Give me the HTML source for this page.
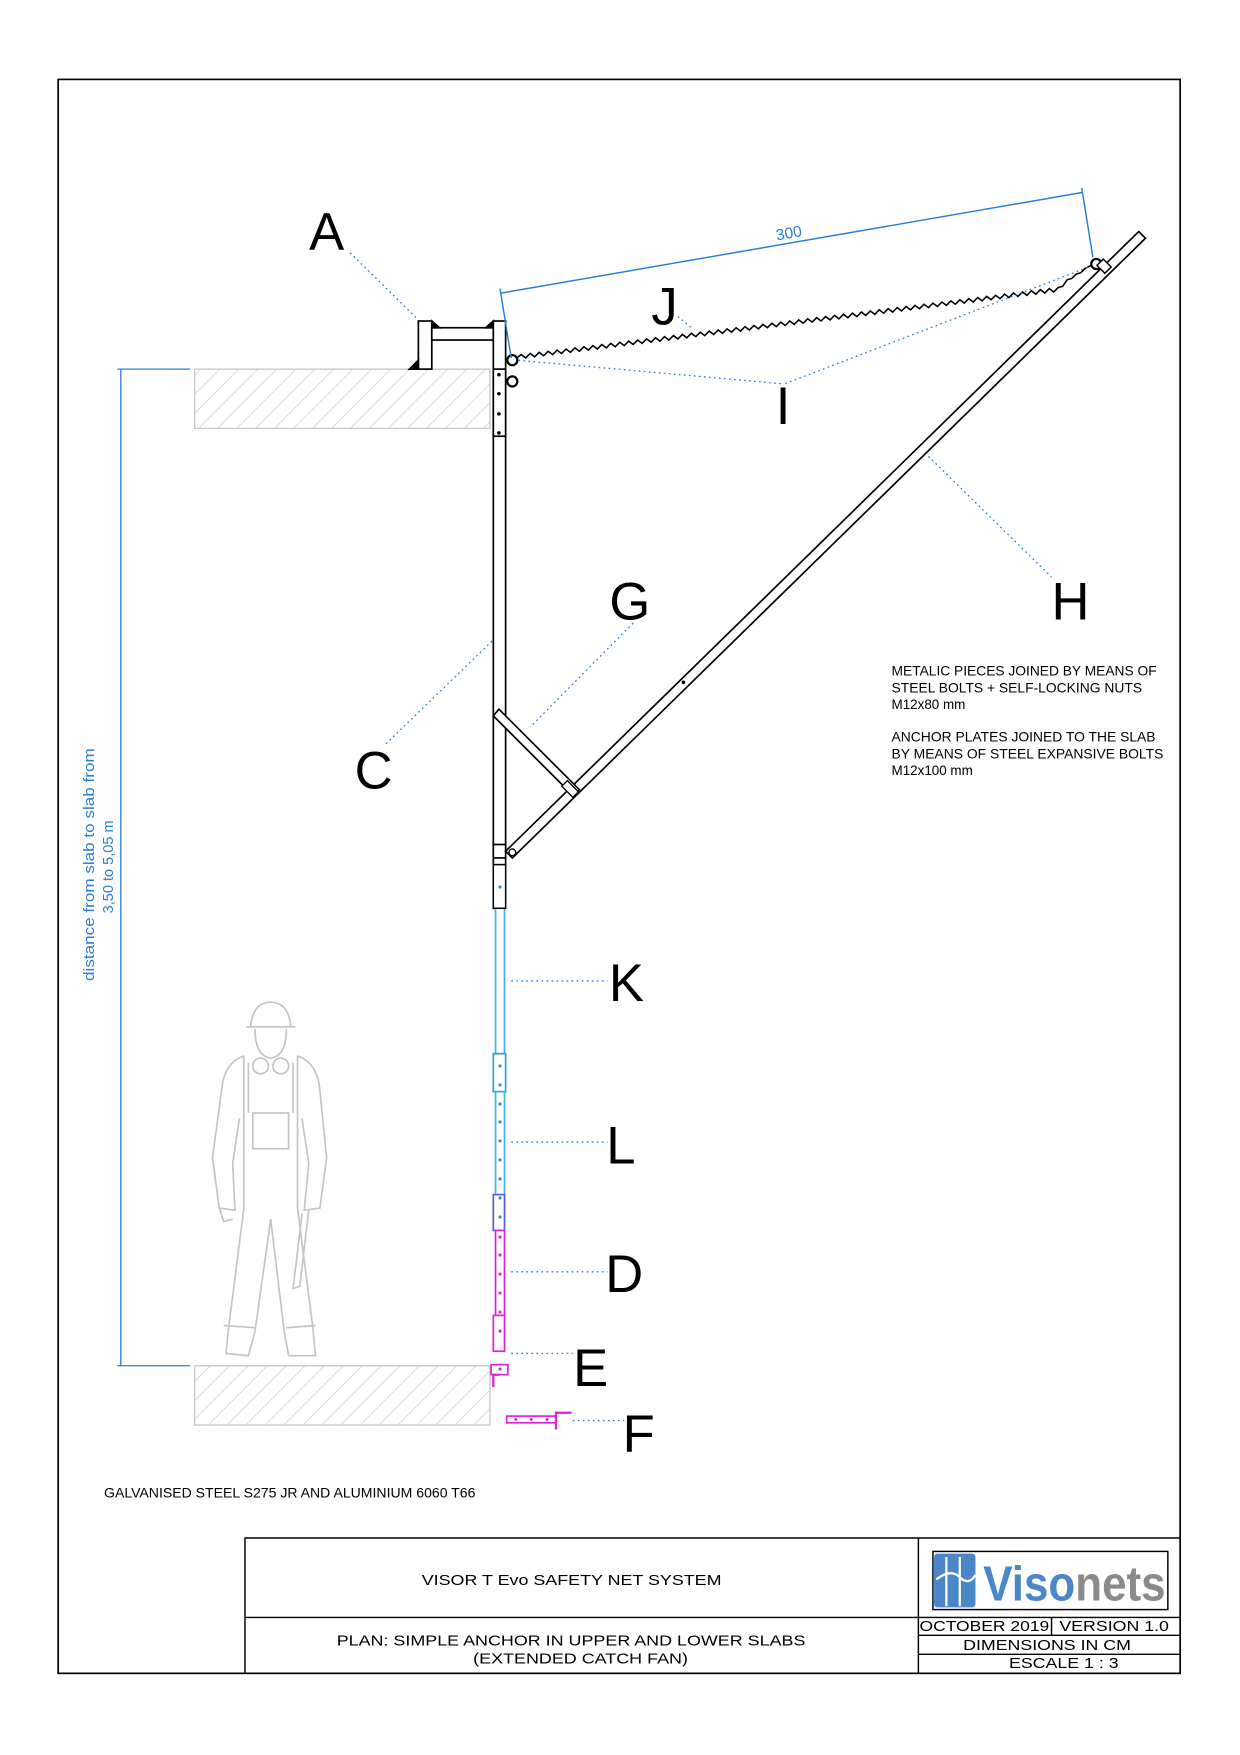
<!DOCTYPE html>
<html><head><meta charset="utf-8"><style>html,body{margin:0;padding:0;background:#fff}svg{display:block}</style></head>
<body>
<svg width="1240" height="1755" viewBox="0 0 1108.5 1569" preserveAspectRatio="none" xmlns="http://www.w3.org/2000/svg" font-family="Liberation Sans, Arial, sans-serif">
<defs>
<pattern id="h" patternUnits="userSpaceOnUse" width="12" height="12" patternTransform="rotate(45)">
<line x1="0" y1="0" x2="0" y2="12" stroke="#c8c8c8" stroke-width="1.2"/>
</pattern>
</defs>
<rect x="52" y="71" width="1003" height="1425" fill="none" stroke="#000" stroke-width="1.5"/>

<rect x="174" y="330" width="264" height="53" fill="url(#h)" stroke="#c8c8c8" stroke-width="1.2"/>
<rect x="174" y="1221" width="264" height="53" fill="url(#h)" stroke="#c8c8c8" stroke-width="1.2"/>

<g stroke="#2a7fd4" stroke-width="1.2">
<line x1="108" y1="330" x2="108" y2="1221"/>
<line x1="105" y1="330" x2="170" y2="330"/>
<line x1="105" y1="1221" x2="170" y2="1221"/>
</g>
<text transform="translate(84,773) rotate(-90)" text-anchor="middle" font-size="13" fill="#2a7fd4" textLength="208" lengthAdjust="spacingAndGlyphs">distance from slab to slab from</text>
<text transform="translate(101,775) rotate(-90)" text-anchor="middle" font-size="13" fill="#2a7fd4">3,50 to 5,05 m</text>

<g stroke="#000" stroke-width="1.5" fill="#fff">
<rect x="374" y="287" width="12" height="43"/>
<rect x="386" y="293" width="55" height="11"/>
<polygon points="366,330 374,322 374,330" fill="#000"/>
<polygon points="386,287 393,293 386,293" fill="#000"/>
<polygon points="441,287 434,293 441,293" fill="#000"/>
</g>

<g stroke="#000" stroke-width="1.5" fill="#fff">
<rect x="441" y="287" width="11" height="525"/>
<rect x="441" y="330" width="11" height="60"/>
<rect x="441" y="755" width="11" height="12"/>
</g>
<g fill="#000"><circle cx="446" cy="335" r="1.6"/><circle cx="446" cy="352" r="1.6"/><circle cx="446" cy="370" r="1.6"/><circle cx="446" cy="387" r="1.6"/></g>
<circle cx="458" cy="322" r="4.5" fill="#fff" stroke="#000" stroke-width="2"/>
<circle cx="458" cy="341" r="4.5" fill="#fff" stroke="#000" stroke-width="2"/>

<polygon points="452,761 1018,207 1024,213 458,767" fill="#fff" stroke="#000" stroke-width="1.5"/>
<circle cx="611" cy="610" r="1.6" fill="#000"/>
<circle cx="458" cy="762" r="3" fill="#fff" stroke="#000" stroke-width="1.2"/>
<polygon points="441,640 446,634 518,706 513,712" fill="#fff" stroke="#000" stroke-width="1.5"/>
<rect x="503" y="702" width="14" height="7" transform="rotate(45 510 705)" fill="#fff" stroke="#000" stroke-width="1.2"/>

<circle cx="980" cy="236" r="4.5" fill="#fff" stroke="#000" stroke-width="2"/>
<rect x="982" y="234" width="10" height="8" transform="rotate(45 987 238)" fill="#fff" stroke="#000" stroke-width="1.3"/>

<polyline fill="none" stroke="#000" stroke-width="1.4" points="
462,320 466,317 470,320 474,316 478,319 482,315 486,318 490,314 494,317 498,313 502,316 506,312 510,315 514,311 518,314 522,310 526,313 530,309 534,312 538,308 542,311 546,307 550,310 554,306 558,309 562,305 566,308 570,304 574,307 578,303 582,306 586,302 590,305 594,301 598,304 602,300 606,303 610,299 614,302 618,298 622,301 626,297 630,300 634,296 638,299 642,295 646,298 650,294 654,297 658,293 662,296 666,292 670,295 674,291 678,294 682,290 686,293 690,289 694,292 698,288 702,291 706,287 710,290 714,286 718,289 722,285 726,288 730,284 734,287 738,283 742,286 746,282 750,285 754,281 758,284 762,280 766,283 770,279 774,282 778,278 782,281 786,277 790,280 794,276 798,279 802,275 806,278 810,274 814,277 818,273 822,276 826,272 830,275 834,271 838,274 842,270 846,273 850,269 854,272 858,268 862,271 866,267 870,270 874,266 878,269 882,265 886,268 890,264 894,267 898,263 902,266 906,262 910,265 914,261 918,264 922,260 926,263 930,259 934,262 938,258 942,261 946,257 950,256 954,250 958,249 962,245 966,244 970,240 976,237"/>

<g stroke="#2a7fd4" stroke-width="1.3" fill="none">
<line x1="448" y1="262" x2="968" y2="172"/>
<line x1="447" y1="258" x2="457" y2="320"/>
<line x1="967" y1="168" x2="977" y2="230"/>
</g>
<text x="706" y="213" font-size="14" fill="#2a7fd4" text-anchor="middle" transform="rotate(-10 706 213)">300</text>

<g fill="#fff" stroke-width="1.5">
<rect x="441" y="773" width="11" height="39" stroke="#2a88c8"/>
<rect x="443" y="812" width="8" height="130" stroke="#3ab5dc"/>
<rect x="441" y="942" width="11" height="34" stroke="#2aa0d0"/>
<rect x="443" y="976" width="8" height="124" stroke="#3ab5dc"/>
<rect x="441" y="1068" width="10" height="32" stroke="#5a5ae0"/>
<rect x="443" y="1100" width="8" height="108" stroke="#e020d8"/>
<rect x="441" y="1176" width="10" height="32" stroke="#e020d8"/>
<rect x="439" y="1220" width="15" height="9" stroke="#e020d8"/>
</g>
<rect x="441" y="773" width="11" height="39" fill="#fff" stroke="#000" stroke-width="1.3"/>
<polyline points="446,1229 441,1229 441,1240" fill="none" stroke="#e020d8" stroke-width="2"/>
<g fill="#2a8ad0">
<circle cx="447" cy="793" r="1.4"/><circle cx="447" cy="953" r="1.4"/><circle cx="447" cy="970" r="1.4"/>
<circle cx="447" cy="987" r="1.4"/><circle cx="447" cy="1003" r="1.4"/><circle cx="447" cy="1020" r="1.4"/><circle cx="447" cy="1037" r="1.4"/><circle cx="447" cy="1054" r="1.4"/><circle cx="447" cy="1071" r="1.4"/><circle cx="447" cy="1088" r="1.4"/>
</g>
<g fill="#e020d8">
<circle cx="447" cy="1106" r="1.4"/><circle cx="447" cy="1122" r="1.4"/><circle cx="447" cy="1139" r="1.4"/><circle cx="447" cy="1156" r="1.4"/><circle cx="447" cy="1173" r="1.4"/><circle cx="447" cy="1190" r="1.4"/><circle cx="447" cy="1224" r="1.4"/>
</g>
<rect x="453" y="1266" width="44" height="6" fill="#fff" stroke="#e020d8" stroke-width="1.5"/>
<g stroke="#e020d8" stroke-width="2"><line x1="497" y1="1262" x2="497" y2="1278"/><line x1="497" y1="1263" x2="511" y2="1263"/></g>
<g fill="#e020d8"><circle cx="461" cy="1269" r="1.3"/><circle cx="475" cy="1269" r="1.3"/><circle cx="489" cy="1269" r="1.3"/></g>

<g stroke="#2a7fd4" stroke-width="1.2" stroke-dasharray="1.5,3" fill="none">
<line x1="313" y1="226" x2="372" y2="284"/>
<line x1="606" y1="283" x2="618" y2="293"/>
<line x1="698" y1="343" x2="462" y2="322"/>
<line x1="702" y1="343" x2="975" y2="238"/>
<line x1="830" y1="408" x2="940" y2="516"/>
<line x1="566" y1="557" x2="474" y2="650"/>
<line x1="345" y1="665" x2="440" y2="573"/>
<line x1="457" y1="877" x2="543" y2="877"/>
<line x1="457" y1="1021" x2="543" y2="1021"/>
<line x1="457" y1="1137" x2="543" y2="1137"/>
<line x1="457" y1="1210" x2="512" y2="1210"/>
<line x1="512" y1="1270" x2="558" y2="1270"/>
</g>

<g font-size="47" fill="#000" text-anchor="middle">
<text x="292" y="223">A</text>
<text x="594" y="290">J</text>
<text x="700" y="379">I</text>
<text x="957" y="554">H</text>
<text x="563" y="554">G</text>
<text x="334" y="705">C</text>
<text x="560" y="895">K</text>
<text x="555" y="1040">L</text>
<text x="558" y="1155">D</text>
<text x="528" y="1239">E</text>
<text x="571" y="1298">F</text>
</g>

<g fill="none" stroke="#c4c4c4" stroke-width="1.5">
<path d="M224,918 Q226,896 242,896 Q258,896 260,918 Z"/>
<line x1="220" y1="918" x2="264" y2="918"/>
<path d="M228,920 Q228,944 242,946 Q256,944 256,920"/>
<circle cx="233" cy="953" r="7"/><circle cx="251" cy="953" r="7"/>
<path d="M218,944 Q200,950 198,975 L190,1035 L196,1080 L210,1082 L208,1040 L214,1000"/>
<path d="M266,944 Q284,950 286,975 L292,1035 L286,1080 L272,1082 L276,1040 L270,1000"/>
<path d="M218,944 L218,1080 L204,1190 L202,1210 L222,1212 L228,1190 L242,1090 L254,1190 L258,1212 L282,1212 L280,1190 L266,1080 L266,944"/>
<rect x="226" y="995" width="32" height="32"/>
<line x1="222" y1="950" x2="222" y2="995"/><line x1="262" y1="950" x2="262" y2="995"/>
<path d="M196,1080 L200,1092 L208,1090"/><path d="M276,1082 L268,1150 L262,1152 L270,1085"/>
<line x1="200" y1="1185" x2="228" y2="1187"/><line x1="256" y1="1187" x2="282" y2="1185"/>
</g>

<g font-size="12" fill="#000" lengthAdjust="spacingAndGlyphs">
<text x="797" y="604" textLength="237" lengthAdjust="spacingAndGlyphs">METALIC PIECES JOINED BY MEANS OF</text>
<text x="797" y="619" textLength="224" lengthAdjust="spacingAndGlyphs">STEEL BOLTS + SELF-LOCKING NUTS</text>
<text x="797" y="634">M12x80 mm</text>
<text x="797" y="663" textLength="236" lengthAdjust="spacingAndGlyphs">ANCHOR PLATES JOINED TO THE SLAB</text>
<text x="797" y="678" textLength="243" lengthAdjust="spacingAndGlyphs">BY MEANS OF STEEL EXPANSIVE BOLTS</text>
<text x="797" y="693">M12x100 mm</text>
<text x="93" y="1339" textLength="332" lengthAdjust="spacingAndGlyphs">GALVANISED STEEL S275 JR  AND ALUMINIUM 6060 T66</text>
</g>

<g stroke="#000" stroke-width="1.3" fill="none">
<polyline points="219,1496 219,1375 1055,1375"/>
<line x1="821" y1="1375" x2="821" y2="1496"/>
<line x1="219" y1="1446" x2="1055" y2="1446"/>
<line x1="821" y1="1462" x2="1055" y2="1462"/>
<line x1="821" y1="1479" x2="1055" y2="1479"/>
<line x1="940" y1="1446" x2="940" y2="1462"/>
<rect x="834" y="1387" width="210" height="52"/>
</g>
<g font-size="13" fill="#000">
<text x="377" y="1417" textLength="268" lengthAdjust="spacingAndGlyphs">VISOR T Evo SAFETY NET SYSTEM</text>
<text x="301" y="1471" textLength="419" lengthAdjust="spacingAndGlyphs">PLAN: SIMPLE ANCHOR IN UPPER AND LOWER SLABS</text>
<text x="423" y="1487" textLength="192" lengthAdjust="spacingAndGlyphs">(EXTENDED CATCH FAN)</text>
<text x="822" y="1458" textLength="116" lengthAdjust="spacingAndGlyphs">OCTOBER 2019</text>
<text x="947" y="1458" textLength="98" lengthAdjust="spacingAndGlyphs">VERSION 1.0</text>
<text x="861" y="1475" textLength="150" lengthAdjust="spacingAndGlyphs">DIMENSIONS IN CM</text>
<text x="902" y="1491" textLength="98" lengthAdjust="spacingAndGlyphs">ESCALE 1 : 3</text>
</g>
<rect x="835" y="1389" width="37" height="48" rx="3" fill="#4a86c8"/>
<path d="M846,1392 L846,1436 M858,1392 L858,1436 M837,1412 Q850,1402 858,1410 Q866,1418 872,1408" stroke="#fff" stroke-width="2" fill="none"/>
<text x="879" y="1431" font-size="44" font-weight="bold" textLength="163" lengthAdjust="spacingAndGlyphs"><tspan fill="#4a86c8">Viso</tspan><tspan fill="#8a8a8a">nets</tspan></text>
</svg>
</body></html>
